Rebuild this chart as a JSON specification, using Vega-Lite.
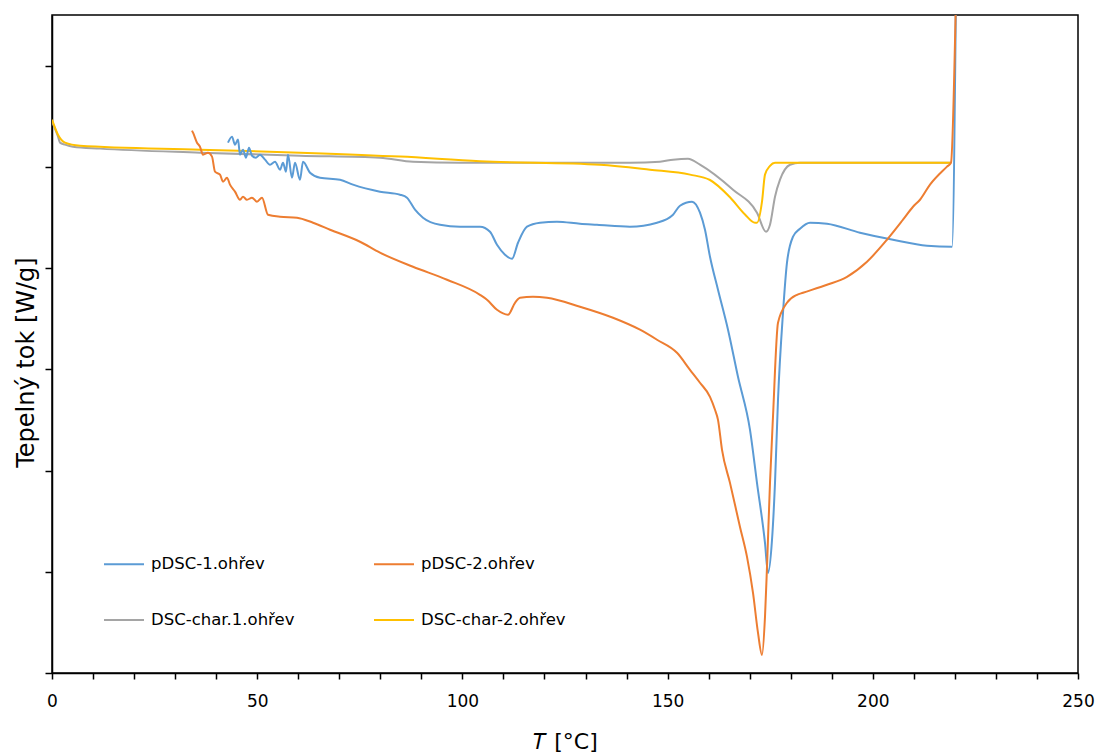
{
  "$schema": "https://vega.github.io/schema/vega-lite/v6.json",
  "width": 1026,
  "height": 658,
  "autosize": {"type": "none"},
  "padding": {"left": 52, "top": 15, "right": 20, "bottom": 83},
  "background": "white",
  "config": {
    "font": "DejaVu Sans",
    "view": {"stroke": "#000000", "strokeWidth": 1.5}
  },
  "data": {"values": [
    {"s":"DSC-char.1.ohřev","x":0,"y":-0.554},
    {"s":"DSC-char.1.ohřev","x":1.46,"y":-0.70},
    {"s":"DSC-char.1.ohřev","x":1.95,"y":-0.761},
    {"s":"DSC-char.1.ohřev","x":3.17,"y":-0.78},
    {"s":"DSC-char.1.ohřev","x":5.12,"y":-0.801},
    {"s":"DSC-char.1.ohřev","x":11.7,"y":-0.82},
    {"s":"DSC-char.1.ohřev","x":36.06,"y":-0.86},
    {"s":"DSC-char.1.ohřev","x":60.43,"y":-0.89},
    {"s":"DSC-char.1.ohřev","x":79.92,"y":-0.909},
    {"s":"DSC-char.1.ohřev","x":87.96,"y":-0.949},
    {"s":"DSC-char.1.ohřev","x":99.42,"y":-0.959},
    {"s":"DSC-char.1.ohřev","x":121.35,"y":-0.959},
    {"s":"DSC-char.1.ohřev","x":140.84,"y":-0.959},
    {"s":"DSC-char.1.ohřev","x":148.15,"y":-0.949},
    {"s":"DSC-char.1.ohřev","x":151.32,"y":-0.929},
    {"s":"DSC-char.1.ohřev","x":154.97,"y":-0.919},
    {"s":"DSC-char.1.ohřev","x":157.89,"y":-0.979},
    {"s":"DSC-char.1.ohřev","x":165.94,"y":-1.226},
    {"s":"DSC-char.1.ohřev","x":171.78,"y":-1.453},
    {"s":"DSC-char.1.ohřev","x":173.98,"y":-1.641},
    {"s":"DSC-char.1.ohřev","x":174.95,"y":-1.572},
    {"s":"DSC-char.1.ohřev","x":176.17,"y":-1.295},
    {"s":"DSC-char.1.ohřev","x":177.39,"y":-1.127},
    {"s":"DSC-char.1.ohřev","x":179.83,"y":-0.979},
    {"s":"DSC-char.1.ohřev","x":182.26,"y":-0.959},
    {"s":"DSC-char.1.ohřev","x":218.81,"y":-0.959},

    {"s":"DSC-char-2.ohřev","x":0,"y":-0.534},
    {"s":"DSC-char-2.ohřev","x":1.46,"y":-0.682},
    {"s":"DSC-char-2.ohřev","x":3.17,"y":-0.761},
    {"s":"DSC-char-2.ohřev","x":6.82,"y":-0.791},
    {"s":"DSC-char-2.ohřev","x":36.06,"y":-0.83},
    {"s":"DSC-char-2.ohřev","x":60.43,"y":-0.86},
    {"s":"DSC-char-2.ohřev","x":84.8,"y":-0.899},
    {"s":"DSC-char-2.ohřev","x":104.29,"y":-0.945},
    {"s":"DSC-char-2.ohřev","x":133.53,"y":-0.979},
    {"s":"DSC-char-2.ohřev","x":145.71,"y":-1.028},
    {"s":"DSC-char-2.ohřev","x":155.46,"y":-1.077},
    {"s":"DSC-char-2.ohřev","x":160.33,"y":-1.13},
    {"s":"DSC-char-2.ohřev","x":165.2,"y":-1.30},
    {"s":"DSC-char-2.ohřev","x":168.86,"y":-1.47},
    {"s":"DSC-char-2.ohřev","x":171.3,"y":-1.552},
    {"s":"DSC-char-2.ohřev","x":171.78,"y":-1.552},
    {"s":"DSC-char-2.ohřev","x":173.0,"y":-1.344},
    {"s":"DSC-char-2.ohřev","x":173.73,"y":-1.077},
    {"s":"DSC-char-2.ohřev","x":174.95,"y":-0.99},
    {"s":"DSC-char-2.ohřev","x":176.17,"y":-0.959},
    {"s":"DSC-char-2.ohřev","x":219.05,"y":-0.959},

    {"s":"pDSC-1.ohřev","x":42.88,"y":-0.761},
    {"s":"pDSC-1.ohřev","x":43.86,"y":-0.702},
    {"s":"pDSC-1.ohřev","x":44.59,"y":-0.781},
    {"s":"pDSC-1.ohřev","x":45.32,"y":-0.731},
    {"s":"pDSC-1.ohřev","x":45.81,"y":-0.88},
    {"s":"pDSC-1.ohřev","x":46.54,"y":-0.83},
    {"s":"pDSC-1.ohřev","x":47.27,"y":-0.909},
    {"s":"pDSC-1.ohřev","x":48.0,"y":-0.811},
    {"s":"pDSC-1.ohřev","x":48.73,"y":-0.89},
    {"s":"pDSC-1.ohřev","x":49.71,"y":-0.909},
    {"s":"pDSC-1.ohřev","x":50.68,"y":-0.88},
    {"s":"pDSC-1.ohřev","x":51.9,"y":-0.929},
    {"s":"pDSC-1.ohřev","x":53.12,"y":-0.979},
    {"s":"pDSC-1.ohřev","x":54.34,"y":-0.949},
    {"s":"pDSC-1.ohřev","x":55.56,"y":-1.028},
    {"s":"pDSC-1.ohřev","x":56.29,"y":-0.959},
    {"s":"pDSC-1.ohřev","x":57.02,"y":-1.048},
    {"s":"pDSC-1.ohřev","x":57.5,"y":-0.88},
    {"s":"pDSC-1.ohřev","x":58.48,"y":-1.107},
    {"s":"pDSC-1.ohřev","x":59.21,"y":-0.959},
    {"s":"pDSC-1.ohřev","x":60.43,"y":-1.127},
    {"s":"pDSC-1.ohřev","x":61.16,"y":-0.949},
    {"s":"pDSC-1.ohřev","x":62.87,"y":-1.058},
    {"s":"pDSC-1.ohřev","x":65.3,"y":-1.107},
    {"s":"pDSC-1.ohřev","x":70.18,"y":-1.127},
    {"s":"pDSC-1.ohřev","x":73.34,"y":-1.176},
    {"s":"pDSC-1.ohřev","x":79.92,"y":-1.245},
    {"s":"pDSC-1.ohřev","x":84.8,"y":-1.275},
    {"s":"pDSC-1.ohřev","x":86.5,"y":-1.305},
    {"s":"pDSC-1.ohřev","x":88.45,"y":-1.423},
    {"s":"pDSC-1.ohřev","x":90.4,"y":-1.502},
    {"s":"pDSC-1.ohřev","x":94.54,"y":-1.572},
    {"s":"pDSC-1.ohřev","x":99.42,"y":-1.591},
    {"s":"pDSC-1.ohřev","x":104.29,"y":-1.591},
    {"s":"pDSC-1.ohřev","x":106.73,"y":-1.641},
    {"s":"pDSC-1.ohřev","x":108.43,"y":-1.77},
    {"s":"pDSC-1.ohřev","x":110.38,"y":-1.868},
    {"s":"pDSC-1.ohřev","x":112.09,"y":-1.908},
    {"s":"pDSC-1.ohřev","x":113.55,"y":-1.75},
    {"s":"pDSC-1.ohřev","x":115.74,"y":-1.591},
    {"s":"pDSC-1.ohřev","x":118.91,"y":-1.552},
    {"s":"pDSC-1.ohřev","x":123.05,"y":-1.542},
    {"s":"pDSC-1.ohřev","x":128.65,"y":-1.562},
    {"s":"pDSC-1.ohřev","x":132.8,"y":-1.572},
    {"s":"pDSC-1.ohřev","x":140.84,"y":-1.591},
    {"s":"pDSC-1.ohřev","x":147.42,"y":-1.552},
    {"s":"pDSC-1.ohřev","x":151.32,"y":-1.473},
    {"s":"pDSC-1.ohřev","x":153.02,"y":-1.384},
    {"s":"pDSC-1.ohřev","x":155.95,"y":-1.344},
    {"s":"pDSC-1.ohřev","x":157.89,"y":-1.453},
    {"s":"pDSC-1.ohřev","x":159.11,"y":-1.621},
    {"s":"pDSC-1.ohřev","x":160.33,"y":-1.888},
    {"s":"pDSC-1.ohřev","x":162.28,"y":-2.214},
    {"s":"pDSC-1.ohřev","x":164.72,"y":-2.609},
    {"s":"pDSC-1.ohřev","x":167.15,"y":-3.074},
    {"s":"pDSC-1.ohřev","x":170.08,"y":-3.598},
    {"s":"pDSC-1.ohřev","x":171.78,"y":-4.122},
    {"s":"pDSC-1.ohřev","x":173.73,"y":-4.715},
    {"s":"pDSC-1.ohřev","x":174.46,"y":-5.011},
    {"s":"pDSC-1.ohřev","x":175.44,"y":-4.685},
    {"s":"pDSC-1.ohřev","x":176.17,"y":-4.122},
    {"s":"pDSC-1.ohřev","x":176.9,"y":-3.301},
    {"s":"pDSC-1.ohřev","x":178.12,"y":-2.441},
    {"s":"pDSC-1.ohřev","x":179.09,"y":-1.947},
    {"s":"pDSC-1.ohřev","x":180.56,"y":-1.69},
    {"s":"pDSC-1.ohřev","x":182.26,"y":-1.611},
    {"s":"pDSC-1.ohřev","x":184.7,"y":-1.552},
    {"s":"pDSC-1.ohřev","x":188.84,"y":-1.562},
    {"s":"pDSC-1.ohřev","x":196.88,"y":-1.651},
    {"s":"pDSC-1.ohřev","x":204.92,"y":-1.72},
    {"s":"pDSC-1.ohřev","x":213.21,"y":-1.779},
    {"s":"pDSC-1.ohřev","x":219.3,"y":-1.789},
    {"s":"pDSC-1.ohřev","x":220.27,"y":0.7},

    {"s":"pDSC-2.ohřev","x":34.11,"y":-0.642},
    {"s":"pDSC-2.ohřev","x":34.36,"y":-0.662},
    {"s":"pDSC-2.ohřev","x":35.33,"y":-0.761},
    {"s":"pDSC-2.ohřev","x":36.06,"y":-0.801},
    {"s":"pDSC-2.ohřev","x":36.79,"y":-0.88},
    {"s":"pDSC-2.ohřev","x":38.01,"y":-0.86},
    {"s":"pDSC-2.ohřev","x":38.99,"y":-0.899},
    {"s":"pDSC-2.ohřev","x":39.72,"y":-1.048},
    {"s":"pDSC-2.ohřev","x":40.94,"y":-1.077},
    {"s":"pDSC-2.ohřev","x":41.67,"y":-1.147},
    {"s":"pDSC-2.ohřev","x":42.64,"y":-1.107},
    {"s":"pDSC-2.ohřev","x":43.37,"y":-1.176},
    {"s":"pDSC-2.ohřev","x":44.59,"y":-1.245},
    {"s":"pDSC-2.ohřev","x":45.81,"y":-1.325},
    {"s":"pDSC-2.ohřev","x":46.54,"y":-1.295},
    {"s":"pDSC-2.ohřev","x":47.51,"y":-1.325},
    {"s":"pDSC-2.ohřev","x":48.73,"y":-1.305},
    {"s":"pDSC-2.ohřev","x":49.95,"y":-1.344},
    {"s":"pDSC-2.ohřev","x":51.17,"y":-1.305},
    {"s":"pDSC-2.ohřev","x":52.63,"y":-1.473},
    {"s":"pDSC-2.ohřev","x":55.56,"y":-1.493},
    {"s":"pDSC-2.ohřev","x":59.7,"y":-1.502},
    {"s":"pDSC-2.ohřev","x":63.6,"y":-1.552},
    {"s":"pDSC-2.ohřev","x":67.74,"y":-1.621},
    {"s":"pDSC-2.ohřev","x":75.05,"y":-1.74},
    {"s":"pDSC-2.ohřev","x":79.92,"y":-1.848},
    {"s":"pDSC-2.ohřev","x":87.96,"y":-1.987},
    {"s":"pDSC-2.ohřev","x":96.25,"y":-2.115},
    {"s":"pDSC-2.ohřev","x":104.29,"y":-2.264},
    {"s":"pDSC-2.ohřev","x":105.99,"y":-2.313},
    {"s":"pDSC-2.ohřev","x":108.43,"y":-2.412},
    {"s":"pDSC-2.ohřev","x":111.11,"y":-2.461},
    {"s":"pDSC-2.ohřev","x":112.82,"y":-2.343},
    {"s":"pDSC-2.ohřev","x":114.04,"y":-2.293},
    {"s":"pDSC-2.ohřev","x":117.2,"y":-2.283},
    {"s":"pDSC-2.ohřev","x":120.61,"y":-2.293},
    {"s":"pDSC-2.ohřev","x":128.65,"y":-2.382},
    {"s":"pDSC-2.ohřev","x":136.7,"y":-2.491},
    {"s":"pDSC-2.ohřev","x":143.27,"y":-2.609},
    {"s":"pDSC-2.ohřev","x":147.42,"y":-2.708},
    {"s":"pDSC-2.ohřev","x":152.29,"y":-2.837},
    {"s":"pDSC-2.ohřev","x":155.46,"y":-3.005},
    {"s":"pDSC-2.ohřev","x":157.89,"y":-3.133},
    {"s":"pDSC-2.ohřev","x":160.33,"y":-3.272},
    {"s":"pDSC-2.ohřev","x":161.55,"y":-3.4},
    {"s":"pDSC-2.ohřev","x":162.28,"y":-3.499},
    {"s":"pDSC-2.ohřev","x":163.26,"y":-3.796},
    {"s":"pDSC-2.ohřev","x":165.2,"y":-4.122},
    {"s":"pDSC-2.ohřev","x":167.64,"y":-4.557},
    {"s":"pDSC-2.ohřev","x":169.35,"y":-4.853},
    {"s":"pDSC-2.ohřev","x":170.81,"y":-5.209},
    {"s":"pDSC-2.ohřev","x":172.03,"y":-5.604},
    {"s":"pDSC-2.ohřev","x":173.0,"y":-5.822},
    {"s":"pDSC-2.ohřev","x":173.73,"y":-5.446},
    {"s":"pDSC-2.ohřev","x":174.22,"y":-4.952},
    {"s":"pDSC-2.ohřev","x":174.95,"y":-4.122},
    {"s":"pDSC-2.ohřev","x":175.68,"y":-3.469},
    {"s":"pDSC-2.ohřev","x":176.9,"y":-2.54},
    {"s":"pDSC-2.ohřev","x":179.09,"y":-2.343},
    {"s":"pDSC-2.ohřev","x":181.53,"y":-2.264},
    {"s":"pDSC-2.ohřev","x":182.99,"y":-2.244},
    {"s":"pDSC-2.ohřev","x":188.84,"y":-2.165},
    {"s":"pDSC-2.ohřev","x":193.71,"y":-2.086},
    {"s":"pDSC-2.ohřev","x":198.59,"y":-1.937},
    {"s":"pDSC-2.ohřev","x":203.46,"y":-1.72},
    {"s":"pDSC-2.ohřev","x":207.36,"y":-1.522},
    {"s":"pDSC-2.ohřev","x":209.8,"y":-1.394},
    {"s":"pDSC-2.ohřev","x":211.5,"y":-1.325},
    {"s":"pDSC-2.ohřev","x":213.94,"y":-1.176},
    {"s":"pDSC-2.ohřev","x":218.08,"y":-0.998},
    {"s":"pDSC-2.ohřev","x":219.05,"y":-0.959},
    {"s":"pDSC-2.ohřev","x":220.27,"y":0.7}
  ]},
  "mark": {"type": "line", "strokeWidth": 2, "clip": true, "interpolate": "monotone"},
  "encoding": {
    "x": {
      "field": "x", "type": "quantitative",
      "scale": {"domain": [0, 250], "nice": false, "zero": false},
      "axis": {
        "title": "𝑇 [°C]",
        "values": [0,10,20,30,40,50,60,70,80,90,100,110,120,130,140,150,160,170,180,190,200,210,220,230,240,250],
        "labelExpr": "datum.value % 50 === 0 ? datum.label : ''",
        "grid": false,
        "domainColor": "#000000", "domainWidth": 1.5,
        "tickColor": "#000000", "tickWidth": 1.5, "tickSize": 6,
        "labelFont": "DejaVu Sans", "labelFontSize": 17, "labelColor": "#000000",
        "labelPadding": 14, "labelFlush": false, "labelOverlap": false,
        "titleFont": "DejaVu Sans", "titleFontSize": 22, "titleFontWeight": "normal",
        "titleColor": "#000000", "titleBaseline": "middle", "titleY": 68
      }
    },
    "y": {
      "field": "y", "type": "quantitative",
      "scale": {"domain": [-6, 0.5], "nice": false, "zero": false},
      "axis": {
        "title": "Tepelný tok [W/g]",
        "values": [-6,-5,-4,-3,-2,-1,0],
        "labels": false,
        "grid": false,
        "domainColor": "#000000", "domainWidth": 1.5,
        "tickColor": "#000000", "tickWidth": 1.5, "tickSize": 7,
        "titleFont": "DejaVu Sans", "titleFontSize": 24, "titleFontWeight": "normal",
        "titleColor": "#000000", "titleBaseline": "middle", "titleX": -26, "titleY": 347, "titleAngle": -90
      }
    },
    "color": {
      "field": "s", "type": "nominal",
      "scale": {
        "domain": ["pDSC-1.ohřev", "DSC-char.1.ohřev", "pDSC-2.ohřev", "DSC-char-2.ohřev"],
        "range": ["#5B9BD5", "#A5A5A5", "#ED7D31", "#FFC000"]
      },
      "legend": {
        "title": null,
        "orient": "none",
        "legendX": 51,
        "legendY": 528,
        "columns": 2,
        "columnPadding": 75,
        "rowPadding": 26,
        "padding": 0,
        "symbolType": "stroke",
        "symbolSize": 1600,
        "symbolStrokeWidth": 2,
        "labelFont": "DejaVu Sans",
        "labelFontSize": 16.5,
        "labelColor": "#000000",
        "labelOffset": 6,
        "labelLimit": 300
      }
    }
  }
}
